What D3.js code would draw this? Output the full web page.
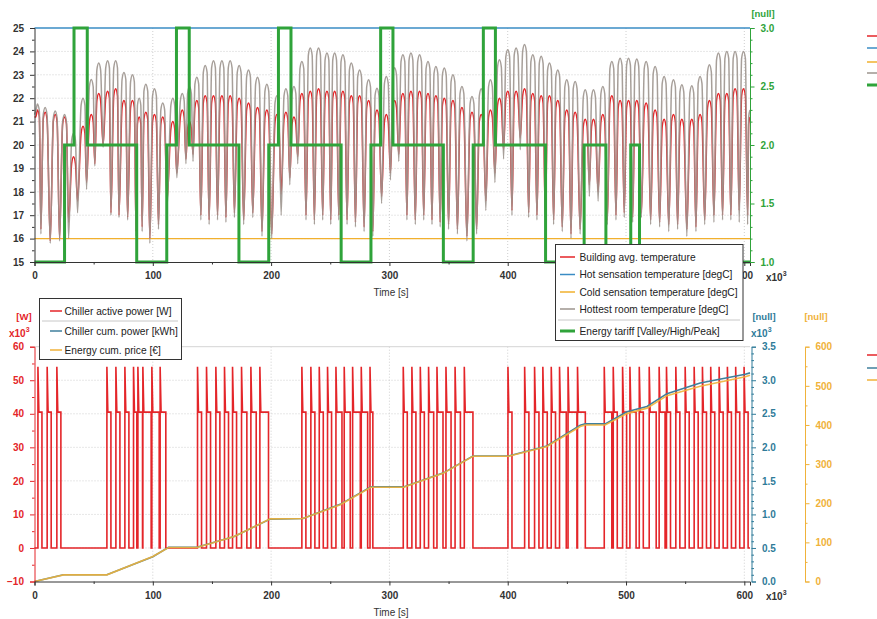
<!DOCTYPE html>
<html><head><meta charset="utf-8">
<script src="https://cdn.jsdelivr.net/npm/d3@7"></script>
<style>
body{margin:0;background:#fff;}
svg{display:block;font-family:"Liberation Sans",Arial,sans-serif;}
</style></head><body>
<svg id="c" width="877" height="619"></svg>
<script>
// ---------------- DATA ----------------
const X_MAX = 604.8;
// temperature local extrema (time x10^3 s, degC)
const peakT = [2.5, 9.0, 17.5, 25.4, 33.0, 41.0, 48.0, 54.3, 61.8, 68.6, 75.6, 82.8, 88.5, 94.1, 101.4, 108.4, 116.9, 124.9, 131.0, 137.2, 144.3, 151.3, 158.4, 165.4, 173.0, 180.9, 188.5, 196.4, 204.9, 212.5, 219.3, 226.0, 233.1, 240.1, 247.2, 253.7, 260.7, 267.8, 274.8, 282.4, 289.5, 297.4, 304.4, 311.4, 318.2, 325.5, 332.6, 339.3, 346.4, 353.7, 361.3, 369.8, 377.6, 385.4, 393.0, 400.0, 407.1, 414.2, 421.2, 428.3, 435.3, 442.3, 449.9, 457.0, 465.5, 472.5, 480.4, 488.0, 495.0, 502.1, 509.1, 517.0, 524.6, 532.2, 540.1, 547.2, 555.6, 562.6, 570.5, 578.1, 585.2, 592.2, 599.3, 604.8];
const hottestPeak = [21.75, 21.6, 21.45, 21.3, 20.5, 22.0, 22.8, 23.5, 23.6, 23.6, 23.1, 23.0, 22.0, 22.6, 22.4, 21.8, 22.0, 22.2, 22.5, 22.9, 23.4, 23.6, 23.6, 23.6, 23.4, 23.2, 22.9, 22.6, 22.1, 22.4, 22.5, 23.57, 24.14, 24.14, 23.93, 23.93, 23.86, 23.5, 23.21, 22.79, 22.43, 22.93, 23.3, 23.86, 23.93, 23.86, 23.57, 23.36, 23.29, 23.0, 22.5, 22.07, 22.4, 22.79, 23.64, 24.07, 24.14, 24.29, 23.86, 23.79, 23.5, 23.21, 22.79, 22.71, 22.36, 22.36, 22.5, 23.57, 23.71, 23.71, 23.67, 23.57, 23.36, 22.93, 22.79, 22.57, 22.53, 22.93, 23.43, 23.93, 24.0, 24.0, 24.0, 21.5];
const avgPeak = [21.5, 21.4, 21.3, 21.2, 19.5, 20.8, 21.3, 22.2, 22.3, 22.4, 21.9, 21.9, 21.2, 21.4, 21.3, 21.2, 21.0, 21.5, 21.0, 21.9, 22.1, 22.1, 22.1, 22.1, 22.0, 21.8, 21.6, 21.5, 21.3, 21.4, 21.2, 22.2, 22.3, 22.4, 22.3, 22.3, 22.3, 22.1, 22.1, 21.9, 21.5, 21.3, 21.9, 22.2, 22.3, 22.3, 22.2, 22.1, 22.0, 21.9, 21.6, 21.4, 21.3, 21.5, 22.0, 22.3, 22.3, 22.4, 22.2, 22.1, 22.1, 21.9, 21.5, 21.4, 21.1, 21.1, 21.3, 22.1, 21.9, 21.9, 21.9, 21.8, 21.5, 21.1, 21.3, 21.1, 21.1, 21.3, 21.9, 22.2, 22.2, 22.4, 22.4, 21.2];
const dipT = [0, 5.4, 13.3, 21.2, 28.8, 36.4, 44.0, 51.0, 58.0, 64.6, 71.4, 78.7, 85.8, 91.0, 97.5, 104.8, 112.0, 120.3, 128.0, 134.0, 140.6, 147.6, 154.7, 161.8, 169.0, 176.8, 184.5, 192.3, 200.5, 208.5, 215.8, 222.5, 229.5, 236.6, 243.6, 250.4, 257.2, 264.2, 271.3, 278.6, 286.0, 293.4, 300.9, 307.9, 314.8, 321.9, 329.0, 336.0, 342.9, 350.0, 357.5, 365.5, 373.7, 381.5, 389.2, 396.5, 403.6, 410.6, 417.7, 424.7, 431.8, 438.8, 446.1, 453.5, 461.2, 469.0, 476.4, 484.2, 491.5, 498.5, 505.6, 513.0, 520.8, 528.4, 536.1, 543.6, 551.4, 559.1, 566.5, 574.3, 581.6, 588.6, 595.7, 602.8];
const hottestDip = [21.3, 16.2, 15.8, 15.9, 16.0, 17.1, 18.1, 19.1, 19.9, 17.0, 16.9, 16.8, 16.1, 16.3, 15.8, 16.4, 17.3, 18.6, 19.2, 19.3, 16.8, 16.6, 16.8, 16.7, 16.9, 16.6, 16.9, 16.1, 16.0, 17.0, 18.3, 19.2, 16.8, 16.6, 16.8, 16.6, 16.8, 16.6, 16.5, 16.3, 16.1, 17.5, 18.5, 19.3, 16.8, 16.6, 16.8, 16.6, 16.5, 16.4, 16.2, 15.9, 16.2, 17.2, 18.4, 19.4, 17.0, 19.8, 16.9, 16.8, 16.7, 16.6, 16.3, 16.0, 16.2, 17.8, 17.6, 16.6, 16.8, 16.9, 16.7, 16.9, 16.6, 16.5, 16.3, 16.4, 16.1, 16.3, 16.6, 16.7, 16.8, 16.8, 16.7, 16.6];
const avgDip = [21.2, 16.4, 15.9, 16.0, 16.7, 17.6, 18.4, 19.2, 20.0, 17.1, 17.0, 16.9, 16.3, 16.5, 16.0, 16.6, 17.6, 18.8, 19.4, 19.6, 17.0, 16.8, 17.0, 16.9, 17.1, 16.8, 17.1, 16.3, 16.2, 17.9, 18.6, 19.5, 17.0, 16.8, 17.0, 16.8, 17.0, 16.8, 16.7, 16.5, 16.3, 17.8, 18.8, 19.6, 17.0, 16.8, 17.0, 16.8, 16.7, 16.6, 16.4, 16.1, 16.4, 17.6, 18.8, 19.8, 17.2, 20.3, 17.1, 17.0, 16.9, 16.8, 16.5, 16.2, 16.4, 18.3, 18.0, 16.8, 17.0, 17.1, 16.9, 17.1, 16.8, 16.7, 16.6, 16.6, 16.4, 16.5, 16.8, 17.0, 17.0, 17.0, 17.2, 17.0];
const sensT = [0, 604.8];
const hotSensation = [25, 25];
const coldSensation = [16, 16];
// energy tariff 1 = Valley, 2 = High, 3 = Peak
const tariffT = [0, 25.4, 33.4, 44.6, 86.4, 111.8, 120.0, 130.8, 172.8, 198.0, 206.2, 216.8, 259.2, 284.4, 292.6, 303.0, 345.6, 370.8, 379.4, 389.6, 432.0, 464.6, 483.0, 504.0, 511.4, 604.8];
const tariffV = [1, 2, 3, 2, 1, 2, 3, 2, 1, 2, 3, 2, 1, 2, 3, 2, 1, 2, 3, 2, 1, 2, 1, 2, 1, 1];
// chiller pulses (start / end, x10^3 s), spike and running power (x10^3 W)
const chillerOn = [2.9, 10.7, 18.9, 61.2, 68.8, 76.4, 83.7, 87.4, 91.6, 99.2, 106.2, 137.8, 145.4, 153.3, 160.6, 167.4, 175.0, 182.9, 190.5, 226.0, 233.6, 240.7, 247.7, 254.8, 261.8, 268.9, 276.2, 283.6, 311.7, 319.0, 326.1, 333.1, 340.2, 347.8, 355.5, 363.3, 400.2, 414.3, 422.7, 429.7, 436.8, 443.8, 451.0, 459.0, 481.6, 489.2, 497.1, 503.3, 511.2, 519.6, 528.0, 534.2, 542.1, 550.0, 557.6, 564.6, 571.6, 578.7, 585.7, 592.7, 599.8];
const chillerOff = [6.3, 14.1, 22.3, 64.6, 72.2, 79.8, 86.5, 91.3, 98.6, 105.4, 111.0, 141.2, 148.8, 156.7, 164.0, 170.8, 179.5, 187.4, 197.8, 229.4, 237.0, 244.1, 251.1, 259.9, 266.9, 275.4, 281.6, 286.0, 315.1, 322.4, 329.5, 337.4, 345.3, 352.1, 360.0, 370.6, 403.6, 417.9, 426.4, 433.4, 440.4, 449.5, 458.5, 465.6, 488.0, 492.6, 500.5, 508.5, 514.6, 525.5, 533.0, 537.6, 545.5, 553.4, 561.0, 568.0, 575.0, 582.1, 589.1, 596.1, 603.2];
const chillerSpike = 54;
const chillerRun = 40.5;
// cumulative series
const cumT = [0, 24.5, 61.2, 100.0, 113.3, 137.3, 168.8, 199.2, 226.9, 258.4, 284.4, 312.0, 345.8, 370.6, 400.7, 433.1, 461.3, 465.5, 482.4, 500.8, 517.7, 534.6, 562.7, 600.8, 604.8];
const cumPrice = [0, 17, 17, 64, 87, 87, 115, 160, 161, 196, 241, 241, 277, 320, 320, 345, 396, 400, 400, 429, 443, 475, 499, 523, 527];
const cumKWh = [0, 0.1, 0.1, 0.37, 0.51, 0.51, 0.67, 0.93, 0.94, 1.15, 1.41, 1.41, 1.62, 1.87, 1.87, 2.02, 2.33, 2.35, 2.35, 2.53, 2.61, 2.8, 2.96, 3.09, 3.11];
// ticks
const xTicks = [0, 100, 200, 300, 400, 500, 600];
const xTickLabels = ["0", "100", "200", "300", "400", "500", "600"];
const tempTicks = [15, 16, 17, 18, 19, 20, 21, 22, 23, 24, 25];
const tariffTicks = [1.0, 1.5, 2.0, 2.5, 3.0];
const powerTicks = [-10, 0, 10, 20, 30, 40, 50, 60];
const kwhTicks = [0, 0.5, 1.0, 1.5, 2.0, 2.5, 3.0, 3.5];
const priceTicks = [0, 100, 200, 300, 400, 500, 600];
const topLegend = ["Building avg. temperature", "Hot sensation temperature [degC]", "Cold sensation temperature [degC]", "Hottest room temperature [degC]", "Energy tariff [Valley/High/Peak]"];
const bottomLegend = ["Chiller active power [W]", "Chiller cum. power [kWh]", "Energy cum. price [€]"];

// ---------------- STYLE ----------------
const C = {
  red: "#e42529", gray: "#9d958e", hot: "#3a8cc4", cold: "#f1b02e", green: "#2fa33a",
  kwh: "#3f7f9c", kwhTxt: "#2f7b99", price: "#f0b23a", axis: "#444", txt: "#333", grid: "#cfcfcf"
};
const FONT = '"Liberation Sans", Arial, sans-serif';

const svg = d3.select("#c");
const x = d3.scaleLinear().domain([0, X_MAX]).range([34.5, 750]);
const yT = d3.scaleLinear().domain([15, 25]).range([262, 28]);
const yG = d3.scaleLinear().domain([1, 3]).range([262, 28]);
const yP = d3.scaleLinear().domain([-10, 60]).range([581.5, 346.7]);
const yK = d3.scaleLinear().domain([0, 3.5]).range([581.5, 346.7]);
const yE = d3.scaleLinear().domain([0, 600]).range([581.5, 346.7]);

function styleAxis(g, color, bold, size) {
  g.attr("font-family", FONT).attr("font-size", size || 9.5).attr("font-weight", bold ? "bold" : "normal");
  g.select(".domain").attr("stroke", color);
  g.selectAll(".tick line").attr("stroke", color);
  g.selectAll(".tick text").attr("fill", color);
}
function minorAxis(axisFn, scale, vals, size, color, tr) {
  const g = svg.append("g").attr("transform", tr).call(axisFn(scale).tickValues(vals).tickSize(size).tickFormat(""));
  g.select(".domain").remove();
  g.selectAll(".tick line").attr("stroke", color);
}
const minorRange = (a, b, step, majStep) => d3.range(Math.round(a / step), Math.round(b / step) + 1).map(i => +(i * step).toFixed(4)).filter(v => Math.abs(v / majStep - Math.round(v / majStep)) > 1e-6);

// ---------------- GRID ----------------
const grid = svg.append("g").attr("stroke", C.grid).attr("stroke-dasharray", "1,2").attr("stroke-width", 1);
tempTicks.slice(1, -1).forEach(v => grid.append("line").attr("x1", x(0)).attr("x2", x(X_MAX)).attr("y1", yT(v)).attr("y2", yT(v)));
xTicks.slice(1).forEach(v => grid.append("line").attr("x1", x(v)).attr("x2", x(v)).attr("y1", yT(25)).attr("y2", yT(15)));
powerTicks.slice(1, -1).forEach(v => grid.append("line").attr("x1", x(0)).attr("x2", x(X_MAX)).attr("y1", yP(v)).attr("y2", yP(v)));
xTicks.slice(1).forEach(v => grid.append("line").attr("x1", x(v)).attr("x2", x(v)).attr("y1", yP(60)).attr("y2", yP(-10)));
svg.append("line").attr("x1", x(0)).attr("x2", x(X_MAX)).attr("y1", yP(60)).attr("y2", yP(60)).attr("stroke", "#d4d4d4");

// ---------------- TOP CHART ----------------
const pairs = (tArr, vArr) => tArr.map((t, i) => [t, vArr[i]]);
// each hump is drawn with a rounded top: the peak vertex is widened into a short cap
function humpPath(dT, dV, pT, pV) {
  const pts = [];
  dT.forEach((t, i) => {
    pts.push([t, dV[i]]);
    if (i < pT.length) {
      const pt = pT[i], v = pV[i];
      const nextDip = i + 1 < dT.length ? dT[i + 1] : null;
      const before = Math.min(1.6, 0.55 * (pt - t));
      const after = nextDip === null ? 0 : Math.min(1.6, 0.55 * (nextDip - pt));
      pts.push([pt - before, v - 0.3]);
      pts.push([pt, v]);
      if (after > 0) pts.push([pt + after, v - 0.3]);
    }
  });
  return pts;
}
const lineT = d3.line().x(d => x(d[0])).y(d => yT(d[1])).curve(d3.curveMonotoneX);
svg.append("path").datum(pairs(sensT, coldSensation)).attr("d", d3.line().x(d => x(d[0])).y(d => yT(d[1])))
  .attr("fill", "none").attr("stroke", C.cold).attr("stroke-width", 1.3);
svg.append("path").datum(humpPath(dipT, avgDip, peakT, avgPeak)).attr("d", lineT)
  .attr("fill", "none").attr("stroke", C.red).attr("stroke-width", 1.5);
svg.append("path").datum(humpPath(dipT, hottestDip, peakT, hottestPeak)).attr("d", lineT)
  .attr("fill", "none").attr("stroke", C.gray).attr("stroke-width", 1.5).attr("stroke-opacity", 0.9);
svg.append("path").datum(pairs(sensT, hotSensation)).attr("d", d3.line().x(d => x(d[0])).y(d => yT(d[1])))
  .attr("fill", "none").attr("stroke", C.hot).attr("stroke-width", 1.3);
svg.append("path").datum(pairs(tariffT, tariffV)).attr("d", d3.line().x(d => x(d[0])).y(d => yG(d[1])).curve(d3.curveStepAfter))
  .attr("fill", "none").attr("stroke", C.green).attr("stroke-width", 3);

// axes top
let g;
g = svg.append("g").attr("transform", "translate(34.5,0)").call(d3.axisLeft(yT).tickValues(tempTicks).tickSize(4.5).tickPadding(6).tickFormat(d3.format("d")));
styleAxis(g, C.txt, true, 10);
minorAxis(d3.axisLeft, yT, minorRange(15, 25, 0.5, 1), 2.5, C.txt, "translate(34.5,0)");
// the "500" label of the upper time axis lies under the legend box, so it is not drawn
g = svg.append("g").attr("transform", "translate(0,262)").call(d3.axisBottom(x).tickValues(xTicks).tickSize(4).tickPadding(6).tickFormat((d, i) => d === 500 ? "" : xTickLabels[i]));
styleAxis(g, C.txt, true, 10);
minorAxis(d3.axisBottom, x, [50, 150, 250, 350, 450, 550], 2.5, C.txt, "translate(0,262)");
g = svg.append("g").attr("transform", "translate(750,0)").call(d3.axisRight(yG).tickValues(tariffTicks).tickSize(4.5).tickPadding(6).tickFormat(d3.format(".1f")));
styleAxis(g, C.green, true, 10);
minorAxis(d3.axisRight, yG, minorRange(1, 3, 0.1, 0.5), 2.5, C.green, "translate(750,0)");
svg.append("text").attr("x", 763).attr("y", 16.5).attr("text-anchor", "middle").attr("font-weight", "bold").attr("font-size", 9.5).attr("fill", C.green).text("[null]");

function x10(xp, yp, color) {
  const t = svg.append("text").attr("x", xp).attr("y", yp).attr("font-weight", "bold").attr("font-size", 10).attr("fill", color).text("x10");
  t.append("tspan").attr("dy", -5).attr("font-size", 7).text("3");
}
x10(766, 280.5, C.txt);
svg.append("text").attr("x", 391).attr("y", 296).attr("text-anchor", "middle").attr("font-size", 10).attr("fill", C.txt).text("Time [s]");

// ---------------- BOTTOM CHART ----------------
const chillerPts = [[0, 0]];
chillerOn.forEach((t, i) => {
  chillerPts.push([t, 0], [t, chillerSpike], [t + 0.8, chillerRun], [chillerOff[i], chillerRun], [chillerOff[i], 0]);
});
chillerPts.push([X_MAX, 0]);
svg.append("path").datum(chillerPts).attr("d", d3.line().x(d => x(d[0])).y(d => yP(d[1])))
  .attr("fill", "none").attr("stroke", C.red).attr("stroke-width", 1.6);
svg.append("path").datum(pairs(cumT, cumKWh)).attr("d", d3.line().x(d => x(d[0])).y(d => yK(d[1])))
  .attr("fill", "none").attr("stroke", C.kwh).attr("stroke-width", 1.6);
svg.append("path").datum(pairs(cumT, cumPrice)).attr("d", d3.line().x(d => x(d[0])).y(d => yE(d[1])))
  .attr("fill", "none").attr("stroke", C.price).attr("stroke-width", 1.6).attr("stroke-opacity", 0.9);

g = svg.append("g").attr("transform", "translate(34.5,0)").call(d3.axisLeft(yP).tickValues(powerTicks).tickSize(4.5).tickPadding(6).tickFormat(d3.format("d")));
styleAxis(g, C.red, true, 10);
minorAxis(d3.axisLeft, yP, minorRange(-10, 60, 5, 10), 2.5, C.red, "translate(34.5,0)");
g = svg.append("g").attr("transform", "translate(0,581.5)").call(d3.axisBottom(x).tickValues(xTicks).tickSize(4).tickPadding(6).tickFormat((d, i) => xTickLabels[i]));
styleAxis(g, C.txt, true, 10);
minorAxis(d3.axisBottom, x, [50, 150, 250, 350, 450, 550], 2.5, C.txt, "translate(0,581.5)");
g = svg.append("g").attr("transform", "translate(751.5,0)").call(d3.axisRight(yK).tickValues(kwhTicks).tickSize(4.5).tickPadding(6).tickFormat(d3.format(".1f")));
styleAxis(g, C.kwhTxt, true, 10);
minorAxis(d3.axisRight, yK, minorRange(0, 3.5, 0.1, 0.5), 2.5, C.kwhTxt, "translate(751.5,0)");
g = svg.append("g").attr("transform", "translate(805,0)").call(d3.axisRight(yE).tickValues(priceTicks).tickSize(4.5).tickPadding(6).tickFormat(d3.format("d")));
styleAxis(g, C.price, true, 10);
minorAxis(d3.axisRight, yE, minorRange(0, 600, 50, 100), 2.5, C.price, "translate(805,0)");

svg.append("text").attr("x", 24).attr("y", 320).attr("text-anchor", "middle").attr("font-weight", "bold").attr("font-size", 9.5).attr("fill", C.red).text("[W]");
x10(9, 337, C.red);
svg.append("text").attr("x", 764).attr("y", 320).attr("text-anchor", "middle").attr("font-weight", "bold").attr("font-size", 9.5).attr("fill", C.kwhTxt).text("[null]");
x10(751, 337, C.kwhTxt);
svg.append("text").attr("x", 816).attr("y", 320).attr("text-anchor", "middle").attr("font-weight", "bold").attr("font-size", 9.5).attr("fill", C.price).text("[null]");
x10(766, 599.5, C.txt);
svg.append("text").attr("x", 391).attr("y", 615.5).attr("text-anchor", "middle").attr("font-size", 10).attr("fill", C.txt).text("Time [s]");

// ---------------- LEGENDS ----------------
function legend(x0, y0, w, h, items, lx1, lx2, tx, sepY, sepX1, sepX2) {
  const lg = svg.append("g");
  if (w) lg.append("rect").attr("x", x0).attr("y", y0).attr("width", w).attr("height", h).attr("fill", "#fff").attr("stroke", "#333").attr("stroke-width", 1);
  if (sepY) lg.append("line").attr("x1", sepX1).attr("x2", sepX2).attr("y1", sepY).attr("y2", sepY).attr("stroke", "#c8c8c8");
  items.forEach(it => {
    lg.append("line").attr("x1", lx1).attr("x2", lx2).attr("y1", it.y).attr("y2", it.y).attr("stroke", it.c).attr("stroke-width", it.w || 1.5);
    if (tx !== null) lg.append("text").attr("x", tx).attr("y", it.y + 3.5).attr("font-size", 10.2).attr("fill", "#222").text(it.t);
  });
}
const topColors = [C.red, C.hot, C.cold, C.gray, C.green];
const topYs = [257, 274.5, 292, 309, 331];
legend(555.5, 244.5, 187.5, 96, topLegend.map((t, i) => ({ t, c: topColors[i], y: topYs[i], w: i === 4 ? 3 : 1.5 })), 560, 575, 579.5, 320, 558, 740);
const botColors = [C.red, C.kwh, C.price];
const botYs = [311, 331, 350];
legend(39.5, 298.5, 142, 61, bottomLegend.map((t, i) => ({ t, c: botColors[i], y: botYs[i] })), 50, 62, 64.5, 321, 42, 178);
// second copies of the legends, cut by the right edge of the picture: only their line keys are visible
const edgeTopYs = [36, 48, 62, 73, 85];
legend(0, 0, 0, 0, topLegend.map((t, i) => ({ t, c: topColors[i], y: edgeTopYs[i], w: i === 4 ? 3 : 1.5 })), 867, 882, null);
const edgeBotYs = [355, 368, 380];
legend(0, 0, 0, 0, bottomLegend.map((t, i) => ({ t, c: botColors[i], y: edgeBotYs[i] })), 867, 882, null);
</script>
</body></html>
